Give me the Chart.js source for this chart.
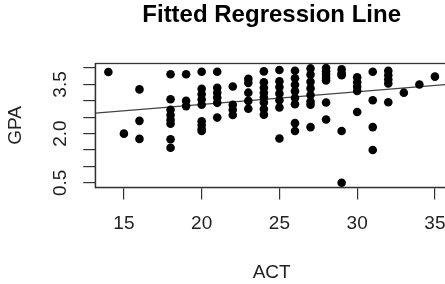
<!DOCTYPE html>
<html>
<head>
<meta charset="utf-8">
<script src="https://cdn.jsdelivr.net/npm/chart.js@4/dist/chart.umd.min.js"></script>
<style>
  html, body { margin: 0; padding: 0; background: #fff; overflow: hidden; }
  #wrap { width: 470px; height: 284px; position: relative; }
</style>
</head>
<body>
<div id="wrap"><canvas id="c" width="470" height="284"></canvas></div>
<script>
// Observed points (ACT score, GPA)
const actValues = [
  14,
  15,
  16, 16, 16,
  18, 18, 18, 18, 18, 18, 18, 18,
  19, 19, 19,
  20, 20, 20, 20, 20, 20, 20, 20, 20,
  21, 21, 21, 21, 21, 21,
  22, 22, 22, 22,
  23, 23, 23, 23, 23,
  24, 24, 24, 24, 24, 24, 24, 24,
  25, 25, 25, 25, 25, 25, 25,
  26, 26, 26, 26, 26, 26, 26, 26,
  27, 27, 27, 27, 27, 27, 27, 27,
  28, 28, 28, 28, 28, 28, 28,
  29, 29, 29, 29, 29,
  30, 30, 30, 30, 30,
  31, 31, 31, 31,
  32, 32, 32, 32, 32,
  33,
  34,
  35
];
const gpaValues = [
  3.88,
  2.00,
  3.35, 2.39, 1.84,
  3.81, 3.05, 2.73, 2.57, 2.42, 2.30, 1.83, 1.57,
  3.81, 3.00, 2.84,
  3.89, 3.37, 3.20, 3.04, 2.88, 2.38, 2.26, 2.14, 2.08,
  3.89, 3.40, 3.25, 3.10, 2.94, 2.49,
  3.44, 2.88, 2.73, 2.57,
  3.67, 3.55, 3.25, 3.00, 2.76,
  3.90, 3.57, 3.40, 3.25, 3.10, 2.95, 2.75, 2.58,
  3.94, 3.60, 3.42, 3.22, 3.02, 2.80, 1.85,
  3.92, 3.69, 3.49, 3.29, 3.09, 2.90, 2.32, 2.08,
  3.99, 3.80, 3.58, 3.38, 3.18, 2.98, 2.88, 2.20,
  4.00, 3.90, 3.80, 3.70, 3.62, 2.95, 2.43,
  3.96, 3.84, 3.78, 2.08, 0.50,
  3.72, 3.57, 3.43, 3.30, 2.66,
  3.89, 3.02, 2.20, 1.50,
  3.92, 3.78, 3.65, 3.53, 2.96,
  3.25,
  3.50,
  3.74
];
// Fitted regression line end points (as read at the plot edges)
const fitX = [13.16, 35.84];
const fitY = [2.625, 3.505];

// Axis ticks
const xTicks = [15, 20, 25, 30, 35];
const yTicks = [0.5, 1.0, 1.5, 2.0, 2.5, 3.0, 3.5, 4.0];
const yTickLabels = ['0.5', '', '', '2.0', '', '', '3.5', ''];

const titleText = 'Fitted Regression Line';
const xTitle = 'ACT';
const yTitle = 'GPA';

const FONT = "'Liberation Sans', Arial, Helvetica, sans-serif";

const points = actValues.map((a, i) => ({ x: a, y: gpaValues[i] }));
const linePts = fitX.map((a, i) => ({ x: a, y: fitY[i] }));

const boxPlugin = {
  id: 'box',
  afterDraw(chart) {
    const { ctx, chartArea: a } = chart;
    ctx.save();
    ctx.strokeStyle = '#333';
    ctx.lineWidth = 1.3;
    ctx.strokeRect(a.left, a.top, a.right - a.left, a.bottom - a.top);
    ctx.restore();
  }
};

new Chart(document.getElementById('c'), {
  type: 'scatter',
  data: {
    datasets: [
      {
        data: points,
        backgroundColor: '#000',
        borderWidth: 0,
        pointRadius: 4.3,
        pointHoverRadius: 4.3,
        order: 1
      },
      {
        type: 'line',
        data: linePts,
        borderColor: '#444',
        borderWidth: 1.2,
        pointRadius: 0,
        fill: false,
        order: 2
      }
    ]
  },
  plugins: [boxPlugin],
  options: {
    responsive: false,
    animation: false,
    events: [],
    layout: { padding: { left: 0, right: 22, top: 0, bottom: 0 } },
    plugins: {
      legend: { display: false },
      tooltip: { enabled: false },
      title: {
        display: true,
        text: titleText,
        fullSize: false,
        color: '#000',
        font: { family: FONT, size: 24, weight: 'bold' },
        padding: { top: 1.1, bottom: 33.6 }
      }
    },
    scales: {
      x: {
        type: 'linear',
        min: 13.16,
        max: 35.84,
        afterBuildTicks(scale) { scale.ticks = xTicks.map(v => ({ value: v })); },
        ticks: {
          color: '#222',
          font: { family: FONT, size: 19 },
          padding: 13,
          maxRotation: 0,
          autoSkip: false,
          callback: v => String(v)
        },
        grid: { drawOnChartArea: false, drawTicks: true, tickLength: 12, color: '#333', lineWidth: 1.2 },
        border: { display: true, color: '#333', width: 1.2 },
        title: {
          display: true,
          text: xTitle,
          color: '#222',
          font: { family: FONT, size: 19 },
          padding: { top: 13, bottom: 0 }
        }
      },
      y: {
        type: 'linear',
        min: 0.36,
        max: 4.14,
        afterBuildTicks(scale) { scale.ticks = yTicks.map(v => ({ value: v })); },
        ticks: {
          color: '#222',
          font: { family: FONT, size: 19 },
          padding: 9,
          minRotation: 90,
          maxRotation: 90,
          autoSkip: false,
          crossAlign: 'center',
          callback: (v, i) => yTickLabels[i]
        },
        grid: { drawOnChartArea: false, drawTicks: true, tickLength: 12, color: '#333', lineWidth: 1.2 },
        border: { display: true, color: '#333', width: 1.2 },
        title: {
          display: true,
          text: yTitle,
          color: '#222',
          font: { family: FONT, size: 19 },
          padding: { top: 4, bottom: 15.7 }
        }
      }
    }
  }
});
</script>
</body>
</html>
